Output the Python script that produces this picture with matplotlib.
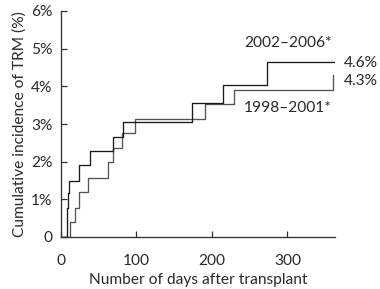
import matplotlib
matplotlib.use("Agg")
import matplotlib.pyplot as plt

plt.rcParams['font.family'] = ['Lato', 'DejaVu Sans']

# step points (day, cumulative %)
daysNew = [0, 8, 9.7, 10.6, 24.2, 38.4, 69.3, 82.5, 174, 215, 272.4, 363]
trmNew = [0, 0.76, 1.16, 1.5, 1.91, 2.29, 2.65, 3.04, 3.57, 4.04, 4.64, 4.64]

daysOld = [0, 11.9, 18.5, 24.2, 36.2, 62.6, 69.3, 80.4, 98, 190.7, 229.5, 360]
trmOld = [0, 0.41, 0.78, 1.19, 1.56, 1.99, 2.36, 2.76, 3.13, 3.54, 3.91, 4.31]

labelNew = "2002\u20132006*"
labelOld = "1998\u20132001*"
endNew = "4.6%"
endOld = "4.3%"

yticks = [0, 1, 2, 3, 4, 5, 6]
yticklabels = ["0", "1%", "2%", "3%", "4%", "5%", "6%"]
xticks = [0, 100, 200, 300]

fs = 11.2
tc = '#2a2a2a'

fig = plt.figure(figsize=(3.8, 2.89), dpi=100)
ax = fig.add_axes([61/380., 1-237/289., (335-61)/380., (237-11)/289.])

ax.step(daysOld, trmOld, where='post', color='#555555', lw=0.95)
ax.step(daysNew, trmNew, where='post', color='#1a1a1a', lw=0.95)

ax.set_xlim(0, 363)
ax.set_ylim(0, 6)
ax.set_yticks(yticks)
ax.set_yticklabels(yticklabels)
ax.set_xticks(xticks)

for s in ['top', 'right']:
    ax.spines[s].set_visible(False)
for s in ['left', 'bottom']:
    ax.spines[s].set_linewidth(0.95)
    ax.spines[s].set_color('#333333')

ax.tick_params(direction='in', length=4, width=0.9, color='#333333',
               labelsize=fs, labelcolor=tc)
ax.tick_params(axis='x', pad=12)
ax.tick_params(axis='y', pad=6)

ax.set_xlabel("Number of days after transplant", fontsize=fs, color=tc, labelpad=4)
ax.set_ylabel("Cumulative incidence of TRM (%)", fontsize=fs, color=tc, labelpad=3)

ax.text(300.7, 5.16, labelNew, ha='center', va='center', fontsize=fs, color=tc)
ax.text(300.7, 3.43, labelOld, ha='center', va='center', fontsize=fs, color=tc)
ax.text(375, 4.63, endNew, ha='left', va='center', fontsize=fs, color=tc, clip_on=False)
ax.text(375, 4.15, endOld, ha='left', va='center', fontsize=fs, color=tc, clip_on=False)

fig.savefig("out.png", dpi=100)
